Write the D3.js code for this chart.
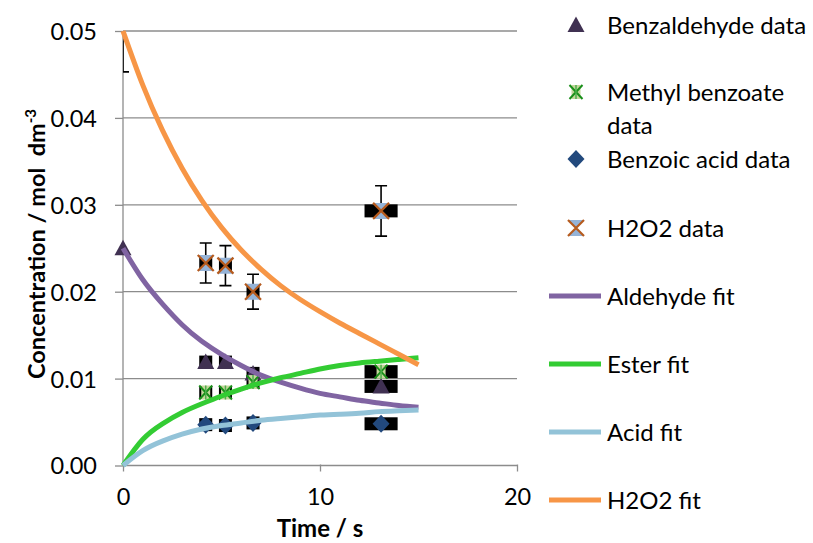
<!DOCTYPE html>
<html>
<head>
<meta charset="utf-8">
<script src="https://cdn.jsdelivr.net/npm/d3@7"></script>
<style>
  html, body { margin: 0; padding: 0; background: #fff; }
  svg { display: block; font-family: Lato, "Open Sans", sans-serif; }
</style>
</head>
<body>
<svg id="chart" width="813" height="543"></svg>
<script>
// ---- measured concentrations (mol dm^-3) ----
const sampleTimes   = [4.2, 5.2, 6.6, 13.1];
const timeSpread    = [0.33, 0.33, 0.33, 0.84];   // horizontal uncertainty in time (s)

const aldehydeTimes = [0, 4.2, 5.2, 6.6, 13.1];
const aldehydeConc  = [0.0250, 0.0119, 0.0119, 0.0106, 0.0091];
const aldehydeSpread = [0, 0.33, 0.33, 0.33, 0.84];

const esterConc     = [0.0084, 0.0084, 0.0096, 0.0108];
const acidConc      = [0.0047, 0.0046, 0.0049, 0.0048];
const h2o2Conc      = [0.0233, 0.0230, 0.0200, 0.0293];
const h2o2Err       = [0.0023, 0.0023, 0.0020, 0.0029];

// initial peroxide charge, shown as its uncertainty bar only
const h2o2StartTime = 0;
const h2o2StartConc = 0.0500;
const h2o2StartErr  = 0.0047;

// ---- kinetic model curves, tabulated at 1 s steps ----
const fitTimes    = [0, 1, 2, 3, 4, 5, 6, 7, 8, 9, 10, 11, 12, 13, 14, 15];
const aldehydeFit = [0.0250, 0.0214, 0.0186, 0.0162, 0.0143, 0.0128, 0.0115, 0.0104, 0.0096, 0.0089, 0.0083, 0.0079, 0.0075, 0.0072, 0.0069, 0.0067];
const esterFit    = [0.0000, 0.0030, 0.0048, 0.0061, 0.0071, 0.0080, 0.0088, 0.0095, 0.0101, 0.0106, 0.0111, 0.0115, 0.0118, 0.0120, 0.0122, 0.0124];
const acidFit     = [0.0000, 0.0017, 0.0028, 0.0036, 0.0042, 0.0046, 0.0049, 0.0052, 0.0054, 0.0056, 0.0058, 0.0059, 0.0060, 0.0062, 0.0063, 0.0064];
const h2o2Fit     = [0.0500, 0.0438, 0.0386, 0.0342, 0.0305, 0.0274, 0.0248, 0.0226, 0.0207, 0.0191, 0.0177, 0.0164, 0.0152, 0.0140, 0.0128, 0.0116];

// ---- axes ----
const xTicks = [0, 10, 20];
const yTicks = [0, 0.01, 0.02, 0.03, 0.04, 0.05];

const legendLabels = ["Benzaldehyde data", "Methyl benzoate data", "Benzoic acid data", "H2O2 data",
                      "Aldehyde fit", "Ester fit", "Acid fit", "H2O2 fit"];

const colors = {
  aldehydeMark: "#403152",
  esterMark: "#1a8f1a",
  esterFill: "#c4d79b",
  acidMark: "#22497d",
  h2o2Fill: "#95b3d7",
  h2o2Cross: "#b65b1e",
  aldehydeFit: "#8064a2",
  esterFit: "#33cc33",
  acidFit: "#93c3d8",
  h2o2Fit: "#f79646",
  grid: "#8c8c8c"
};

const svg = d3.select("#chart");
const x = d3.scaleLinear().domain([0, 20]).range([123, 517]);
const y = d3.scaleLinear().domain([0, 0.05]).range([465.5, 31]);

// gridlines
svg.append("g").selectAll("line").data(yTicks.slice(1)).join("line")
  .attr("x1", x(0)).attr("x2", x(20))
  .attr("y1", d => y(d)).attr("y2", d => y(d))
  .attr("stroke", colors.grid).attr("stroke-width", 1.3);

// y axis
const yAxis = svg.append("g").attr("transform", `translate(${x(0)},0)`)
  .call(d3.axisLeft(y).tickValues(yTicks).tickFormat(d3.format(".2f")).tickSize(8).tickPadding(18));
// x axis
const xAxis = svg.append("g").attr("transform", `translate(0,${y(0)})`)
  .call(d3.axisBottom(x).tickValues(xTicks).tickFormat(d3.format("d")).tickSize(6).tickPadding(17));

[yAxis, xAxis].forEach(g => {
  g.select(".domain").attr("stroke", colors.grid).attr("stroke-width", 1.3);
  g.selectAll(".tick line").attr("stroke", colors.grid).attr("stroke-width", 1.3);
  g.selectAll(".tick text").attr("fill", "#000").style("font-size", "23.5px").style("font-family", "Lato, sans-serif");
});
yAxis.select(".domain").attr("d", `M0,${y(0)}V${y(0.05)}`);
xAxis.select(".domain").attr("d", `M${x(0)},0H${x(20)}`);
yAxis.selectAll(".tick text").attr("dy", "0.36em");
xAxis.selectAll(".tick line").attr("y1", -1);

// axis titles
svg.append("text")
  .attr("x", x(10)).attr("y", 537)
  .attr("text-anchor", "middle")
  .style("font-weight", "bold").style("font-size", "24px")
  .text("Time / s");

const yTitle = svg.append("text")
  .attr("transform", "translate(45,244) rotate(-90)")
  .attr("text-anchor", "middle")
  .style("font-weight", "bold").style("font-size", "23.5px");
yTitle.append("tspan").text("Concentration / mol\u00a0 dm");
yTitle.append("tspan").attr("dy", -9).style("font-size", "15px").text("-3");

// clip region of the plotting area
svg.append("clipPath").attr("id", "plotClip")
  .append("rect").attr("x", x(0)).attr("y", y(0.05)).attr("width", x(20) - x(0)).attr("height", y(0) - y(0.05));
const plot = svg.append("g").attr("clip-path", "url(#plotClip)");

// ---- marker shapes ----
function triangle(g) {
  g.append("path").attr("d", "M0,-8.5L8.5,7L-8.5,7Z").attr("fill", colors.aldehydeMark);
}
function star(g) {
  g.append("rect").attr("x", -4.5).attr("y", -7).attr("width", 9).attr("height", 14).attr("fill", colors.esterFill);
  g.append("path").attr("d", "M-6.5,-7L6.5,7M6.5,-7L-6.5,7")
    .attr("stroke", colors.esterMark).attr("stroke-width", 2).attr("fill", "none");
  g.append("path").attr("d", "M0,-7V7").attr("stroke", "#4cae4c").attr("stroke-width", 1.5);
}
function diamond(g) {
  g.append("path").attr("d", "M0,-9L8.5,0L0,9L-8.5,0Z").attr("fill", colors.acidMark);
}
function hourglass(g) {
  g.append("path").attr("d", "M-8,-8L8,-8L0,0L8,8L-8,8L0,0Z").attr("fill", colors.h2o2Fill);
  g.append("path").attr("d", "M-8,-8L8,8M8,-8L-8,8")
    .attr("stroke", colors.h2o2Cross).attr("stroke-width", 2.2).attr("fill", "none");
}

// ---- data series ----
const aldehydeData = aldehydeTimes.map((t, i) => ({ t, c: aldehydeConc[i], s: aldehydeSpread[i] }));
const esterData = sampleTimes.map((t, i) => ({ t, c: esterConc[i], s: timeSpread[i] }));
const acidData  = sampleTimes.map((t, i) => ({ t, c: acidConc[i], s: timeSpread[i] }));
const h2o2Data  = sampleTimes.map((t, i) => ({ t, c: h2o2Conc[i], e: h2o2Err[i], s: timeSpread[i] }));

const series = [
  { data: aldehydeData, shape: triangle },
  { data: esterData, shape: star },
  { data: acidData, shape: diamond },
  { data: h2o2Data, shape: hourglass }
];

// time-uncertainty boxes behind the markers
series.forEach(sr => {
  plot.append("g").selectAll("rect").data(sr.data.filter(d => d.s > 0)).join("rect")
    .attr("x", d => x(d.t - d.s)).attr("width", d => x(d.t + d.s) - x(d.t - d.s))
    .attr("y", d => y(d.c) - 6.5).attr("height", 13)
    .attr("fill", "#000");
});

// concentration error bars on peroxide
const errData = [{ t: h2o2StartTime, c: h2o2StartConc, e: h2o2StartErr }].concat(h2o2Data);
const eb = plot.append("g").attr("stroke", "#000").attr("stroke-width", 1.6).attr("fill", "none");
eb.selectAll("path").data(errData).join("path")
  .attr("d", d => {
    const cx = x(d.t), y1 = y(d.c + d.e), y2 = y(d.c - d.e);
    return `M${cx},${y1}V${y2}M${cx - 6},${y1}H${cx + 6}M${cx - 6},${y2}H${cx + 6}`;
  });

// markers
series.forEach(sr => {
  svg.append("g").selectAll("g").data(sr.data).join("g")
    .attr("transform", d => `translate(${x(d.t)},${y(d.c)})`)
    .each(function () { sr.shape(d3.select(this)); });
});

// fitted curves
const line = d3.line().x(d => x(d[0])).y(d => y(d[1])).curve(d3.curveNatural);
const fits = [
  { vals: aldehydeFit, color: colors.aldehydeFit },
  { vals: esterFit, color: colors.esterFit },
  { vals: acidFit, color: colors.acidFit },
  { vals: h2o2Fit, color: colors.h2o2Fit }
];
fits.forEach(f => {
  svg.append("path")
    .datum(fitTimes.map((t, i) => [t, f.vals[i]]))
    .attr("d", line)
    .attr("fill", "none").attr("stroke", f.color).attr("stroke-width", 5);
});

// ---- legend ----
const legendRows = [
  { y: 25, shape: triangle, lines: ["Benzaldehyde data"] },
  { y: 92, shape: star, lines: ["Methyl benzoate", "data"] },
  { y: 159, shape: diamond, lines: ["Benzoic acid data"] },
  { y: 228, shape: hourglass, lines: ["H2O2 data"] },
  { y: 296, color: colors.aldehydeFit, lines: ["Aldehyde fit"] },
  { y: 364, color: colors.esterFit, lines: ["Ester fit"] },
  { y: 432, color: colors.acidFit, lines: ["Acid fit"] },
  { y: 500, color: colors.h2o2Fit, lines: ["H2O2 fit"] }
];
const legend = svg.append("g");
legendRows.forEach((r, i) => {
  const g = legend.append("g");
  if (r.shape) {
    const m = g.append("g").attr("transform", `translate(576,${r.y})`);
    r.shape(m);
  } else {
    g.append("line").attr("x1", 549).attr("x2", 601).attr("y1", r.y).attr("y2", r.y)
      .attr("stroke", r.color).attr("stroke-width", 5);
  }
  const words = legendLabels[i];
  const t = g.append("text").attr("x", 607).attr("y", r.y + 8.5).style("font-size", "24px");
  if (r.lines.length === 1) {
    t.text(words);
  } else {
    r.lines.forEach((ln, k) => t.append("tspan").attr("x", 607).attr("dy", k === 0 ? 0 : 33).text(ln));
  }
});
</script>
</body>
</html>
